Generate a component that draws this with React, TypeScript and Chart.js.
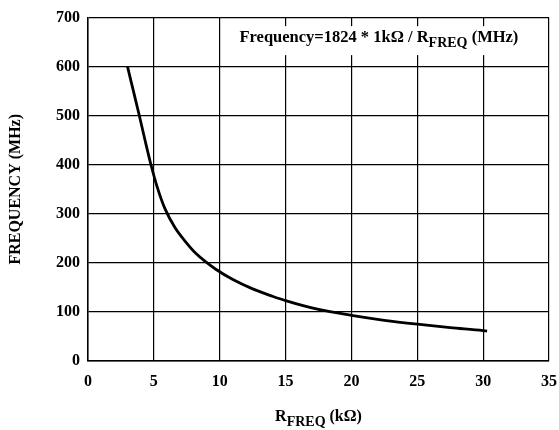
import React, { useEffect, useRef } from "react";
import { Chart, registerables } from "chart.js";

Chart.register(...registerables);

const rFreq: number[] = [3.0, 3.45, 3.9, 4.33, 4.78, 5.25, 5.85, 6.6, 7.35, 8.2, 9.0, 9.7, 11.0, 12.5, 14.0, 15.0, 17.5, 20.0, 22.5, 25.0, 27.5, 30.0, 30.3];
const freqMHz: number[] = [600, 550, 500, 450, 400, 355, 310, 272, 245, 219, 201, 187, 166, 147, 132, 123, 105, 93, 83, 75, 68, 62, 61];
const xTicks: number[] = [0, 5, 10, 15, 20, 25, 30, 35];
const yTicks: number[] = [0, 100, 200, 300, 400, 500, 600, 700];

const FONT = "'Liberation Serif', 'Times New Roman', serif";

function drawSubText(
  ctx: CanvasRenderingContext2D,
  parts: { t: string; sub?: boolean }[],
  x: number,
  y: number,
  size: number,
  subSize: number,
  align: "left" | "center"
) {
  ctx.save();
  ctx.textBaseline = "alphabetic";
  ctx.textAlign = "left";
  let total = 0;
  const widths = parts.map((p) => {
    ctx.font = `bold ${p.sub ? subSize : size}px ${FONT}`;
    const w = ctx.measureText(p.t).width;
    total += w;
    return w;
  });
  let cx = align === "center" ? x - total / 2 : x;
  parts.forEach((p, i) => {
    ctx.font = `bold ${p.sub ? subSize : size}px ${FONT}`;
    ctx.fillStyle = "#000";
    ctx.fillText(p.t, cx, p.sub ? y + size * 0.3 : y);
    cx += widths[i];
  });
  ctx.restore();
  return total;
}

const textPlugin = {
  id: "textPlugin",
  afterDraw(chart: any) {
    const ctx: CanvasRenderingContext2D = chart.ctx;
    const xs = chart.scales.x;
    const ys = chart.scales.y;
    const area = chart.chartArea;
    // annotation
    const ax = xs.getPixelForValue(11.5);
    const ay = ys.getPixelForValue(650);
    const parts = [
      { t: "Frequency=1824 * 1kΩ / R" },
      { t: "FREQ", sub: true },
      { t: " (MHz)" },
    ];
    ctx.save();
    let w = 0;
    parts.forEach((p) => {
      ctx.font = `bold ${p.sub ? 14 : 16.5}px ${FONT}`;
      w += ctx.measureText(p.t).width;
    });
    ctx.fillStyle = "#fff";
    ctx.fillRect(ax - 5, ay - 16, w + 10, 29);
    ctx.restore();
    drawSubText(ctx, parts, ax, ay, 16.5, 14, "left");
    // x title
    const cx = (area.left + area.right) / 2;
    drawSubText(
      ctx,
      [{ t: "R" }, { t: "FREQ", sub: true }, { t: " (kΩ)" }],
      cx,
      421,
      16,
      14,
      "center"
    );
    // y title
    ctx.save();
    ctx.translate(20, (area.top + area.bottom) / 2);
    ctx.rotate(-Math.PI / 2);
    ctx.font = `bold 16px ${FONT}`;
    ctx.fillStyle = "#000";
    ctx.textAlign = "center";
    ctx.textBaseline = "alphabetic";
    ctx.fillText("FREQUENCY (MHz)", 0, 0);
    ctx.restore();
  },
};

export default function App() {
  const ref = useRef<HTMLCanvasElement | null>(null);
  useEffect(() => {
    document.body.style.margin = "0";
    const canvas = ref.current!;
    const chart = new Chart(canvas, {
      type: "line",
      data: {
        datasets: [
          {
            data: rFreq.map((x, i) => ({ x, y: freqMHz[i] })),
            borderColor: "#000",
            borderWidth: 2.8,
            pointRadius: 0,
            cubicInterpolationMode: "monotone",
            fill: false,
          },
        ],
      },
      options: {
        animation: false,
        responsive: false,
        devicePixelRatio: 1,
        layout: { padding: { left: 0, right: 0, top: 15, bottom: 0 } },
        plugins: { legend: { display: false }, tooltip: { enabled: false } },
        scales: {
          x: {
            type: "linear",
            min: 0,
            max: 35,
            afterBuildTicks: (s: any) => {
              s.ticks = xTicks.map((v) => ({ value: v }));
            },
            afterFit: (s: any) => {
              s.height = 69;
              s.paddingRight = 10;
              s.paddingLeft = 0;
            },
            ticks: {
              color: "#000",
              font: { family: FONT, size: 16, weight: "bold" },
              padding: 11,
              maxRotation: 0,
            },
            grid: { color: "#000", lineWidth: 1.2, drawTicks: false },
            border: { color: "#000", width: 1.5 },
          },
          y: {
            type: "linear",
            min: 0,
            max: 700,
            afterBuildTicks: (s: any) => {
              s.ticks = yTicks.map((v) => ({ value: v }));
            },
            afterFit: (s: any) => {
              s.width = 88;
            },
            ticks: {
              color: "#000",
              font: { family: FONT, size: 16, weight: "bold" },
              padding: 8,
            },
            grid: { color: "#000", lineWidth: 1.2, drawTicks: false },
            border: { color: "#000", width: 1.5 },
          },
        },
      },
      plugins: [textPlugin],
    } as any);
    return () => chart.destroy();
  }, []);
  return (
    <div style={{ position: "absolute", left: 0, top: 0, width: 559, height: 430, background: "#fff" }}>
      <canvas ref={ref} width={559} height={430} />
    </div>
  );
}
